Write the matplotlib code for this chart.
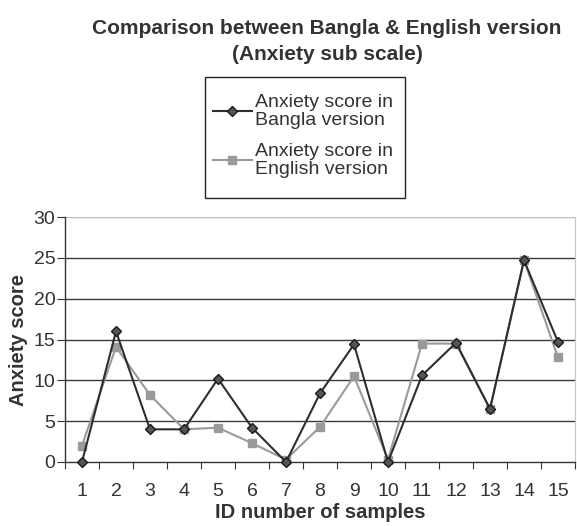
import numpy as np
import matplotlib
matplotlib.use("Agg")
from matplotlib import pyplot as plt
from matplotlib.patches import Rectangle
from matplotlib.ticker import FixedLocator, NullFormatter

plt.rcParams['font.family'] = ['Liberation Sans', 'DejaVu Sans']

ids = np.arange(1, 16)
bangla = [0, 16, 4, 4, 10.2, 4.2, 0, 8.4, 14.4, 0, 10.6, 14.6, 6.5, 24.7, 14.7]
english = [2, 14.1, 8.2, 4, 4.2, 2.3, 0.3, 4.3, 10.5, 0.3, 14.5, 14.5, 6.5, 24.7, 12.8]

W, H = 577, 526
fig = plt.figure(figsize=(W/100, H/100), dpi=100)
ax = fig.add_axes([65/W, 64/H, 510/W, 245/H])

# horizontal grid, dark lines with a light top border
for v in [5, 10, 15, 20, 25]:
    ax.axhline(v, color='#3a3a3a', lw=1.0, zorder=1)
ax.axhline(30, color='#bbbbbb', lw=1.0, zorder=1)

ax.plot(ids, english, color='#9a9a9a', lw=1.5, marker='s', ms=6,
        mfc='#9a9a9a', mec='#9a9a9a', clip_on=False, zorder=3,
        label='Anxiety score in\nEnglish version')
ax.plot(ids, bangla, color='#2e2e2e', lw=1.5, marker='D', ms=5.5,
        mfc='#555555', mec='#1a1a1a', clip_on=False, zorder=4,
        label='Anxiety score in\nBangla version')

ax.set_xlim(0.5, 15.5)
ax.set_ylim(0, 30)
ax.set_yticks(range(0, 31, 5))
ax.xaxis.set_major_locator(FixedLocator(np.arange(0.5, 16, 1)))
ax.xaxis.set_major_formatter(NullFormatter())
ax.xaxis.set_minor_locator(FixedLocator(ids))
ax.set_xticklabels([str(i) for i in ids], minor=True)
ax.tick_params(axis='x', which='minor', length=0, labelsize=14,
               labelcolor='#333333', pad=15)
ax.tick_params(axis='x', which='major', length=5, color='#333333')
ax.tick_params(axis='y', length=6, labelsize=14, labelcolor='#333333',
               color='#333333', pad=1)

for s in ['left', 'bottom']:
    ax.spines[s].set_color('#333333')
    ax.spines[s].set_linewidth(1.0)
ax.spines['top'].set_visible(False)
ax.spines['right'].set_color('#c8c8c8')

ax.set_ylabel('Anxiety score', fontsize=14.5, fontweight='bold',
              color='#333333', labelpad=4)
ax.set_xlabel('ID number of samples', fontsize=14.5, fontweight='bold',
              color='#333333', labelpad=2)

fig.text(327/W, 1 - 28/H, 'Comparison between Bangla & English version',
         ha='center', va='center', fontsize=15, fontweight='bold', color='#333333')
fig.text(327/W, 1 - 54/H, '(Anxiety sub scale)',
         ha='center', va='center', fontsize=15, fontweight='bold', color='#333333')

# legend box drawn separately so the padding can differ per side
fig.patches.append(Rectangle((205/W, 1 - 198/H), 200/W, 121/H,
                             transform=fig.transFigure, fill=False,
                             edgecolor='#222222', lw=1.0))
handles, labels = ax.get_legend_handles_labels()
leg = fig.legend(handles[::-1], labels[::-1], loc='upper left',
                 bbox_to_anchor=(205/W, 1 - 86/H), fontsize=14,
                 frameon=False, handlelength=2.0, handletextpad=0.15,
                 labelspacing=0.7, borderpad=0.41, borderaxespad=0)
for t in leg.get_texts():
    t.set_color('#333333')
    t.set_linespacing(1.1)

fig.savefig('out.png', dpi=100)
